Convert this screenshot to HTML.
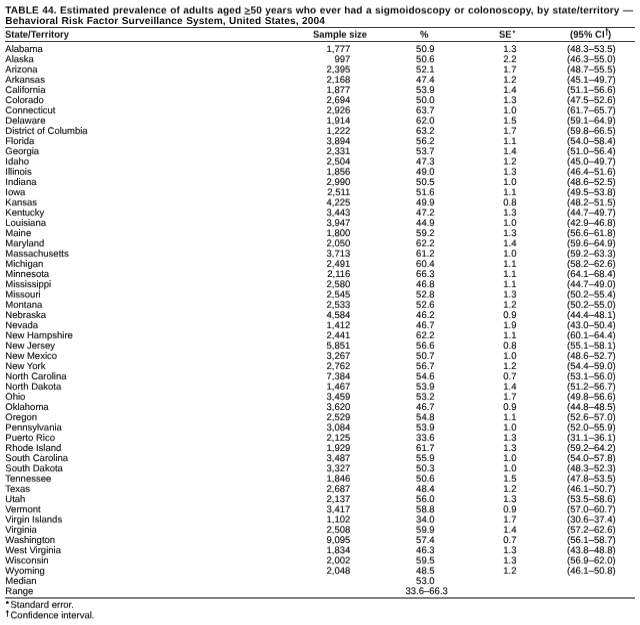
<!DOCTYPE html>
<html><head><meta charset="utf-8"><title>TABLE 44</title>
<style>
html,body{margin:0;padding:0;background:#fff;}
body{text-rendering:geometricPrecision;width:640px;height:625px;position:relative;overflow:hidden;font-family:"Liberation Sans",sans-serif;color:#0a0a0a;-webkit-text-stroke:0.12px #0a0a0a;}
#w{position:absolute;left:0;top:0;width:640px;height:625px;will-change:transform;transform:translateZ(0);}
.t,.h,.r,.f{position:absolute;top:0;line-height:12px;white-space:nowrap;}
.t{left:5.3px;font-weight:bold;font-size:10.1px;color:#111;-webkit-text-stroke:0;letter-spacing:0.13px;word-spacing:0.42px;}
.hl{position:absolute;left:5px;width:629.5px;height:1px;background:#3a3838;}
.h{font-weight:bold;font-size:10.0px;color:#111;-webkit-text-stroke:0;transform:scaleX(0.945);transform-origin:0 0;}
.r{left:0;width:640px;height:12px;font-size:9.5px;}
.r span{position:absolute;top:0;}
.a{left:5.3px;}
.n{right:289.7px;text-align:right;}
.p{right:205.4px;text-align:right;}
.s{right:123.5px;text-align:right;}
.c{left:531.3px;width:120px;text-align:center;}
.g{left:366.7px;width:120px;text-align:center;}
.f{left:5.3px;font-size:9.5px;}
</style></head><body><svg width="0" height="0" style="position:absolute"><defs><filter id="d1" color-interpolation-filters="sRGB"><feConvolveMatrix order="1 3" kernelMatrix="0 0.875 0.125" divisor="1" preserveAlpha="false" edgeMode="none"/></filter><filter id="u1" color-interpolation-filters="sRGB"><feConvolveMatrix order="1 3" kernelMatrix="0.125 0.875 0" divisor="1" preserveAlpha="false" edgeMode="none"/></filter><filter id="d2" color-interpolation-filters="sRGB"><feConvolveMatrix order="1 3" kernelMatrix="0 0.75 0.25" divisor="1" preserveAlpha="false" edgeMode="none"/></filter><filter id="u2" color-interpolation-filters="sRGB"><feConvolveMatrix order="1 3" kernelMatrix="0.25 0.75 0" divisor="1" preserveAlpha="false" edgeMode="none"/></filter><filter id="d3" color-interpolation-filters="sRGB"><feConvolveMatrix order="1 3" kernelMatrix="0 0.625 0.375" divisor="1" preserveAlpha="false" edgeMode="none"/></filter><filter id="u3" color-interpolation-filters="sRGB"><feConvolveMatrix order="1 3" kernelMatrix="0.375 0.625 0" divisor="1" preserveAlpha="false" edgeMode="none"/></filter><filter id="d4" color-interpolation-filters="sRGB"><feConvolveMatrix order="1 3" kernelMatrix="0 0.5 0.5" divisor="1" preserveAlpha="false" edgeMode="none"/></filter><filter id="u4" color-interpolation-filters="sRGB"><feConvolveMatrix order="1 3" kernelMatrix="0.5 0.5 0" divisor="1" preserveAlpha="false" edgeMode="none"/></filter></defs></svg><div id="w">

<div class="t" style="top:5px;filter:url(#u4)">TABLE 44. Estimated prevalence of adults aged <u style="font-weight:normal;-webkit-text-stroke:0.25px #111;font-size:9.4px;letter-spacing:0.45px;text-decoration-thickness:0.9px;text-underline-offset:0.2px">&gt;</u>50 years who ever had a sigmoidoscopy or colonoscopy, by state/territory —</div>
<div class="t" style="top:16px">Behavioral Risk Factor Surveillance System, United States, 2004</div>
<div class="hl" style="top:27px"></div>
<div class="h" style="left:5.3px;top:30px;filter:url(#u3)">State/Territory</div>
<div class="h" style="left:313.3px;top:30px;filter:url(#u3)">Sample size</div>
<div class="h" style="left:419.6px;top:30px;filter:url(#u3)">%</div>
<div class="h" style="left:499.4px;top:30px;filter:url(#u3)">SE<span style="font-size:7.8px;position:relative;top:-2px;left:0.9px">*</span></div>
<div class="h" style="left:570.4px;letter-spacing:0.08px;top:30px;filter:url(#u3)">(95% CI<i style="display:inline-block;width:3.6px"></i>)</div>
<div class="hl" style="top:41px"></div>
<div class="r" style="top:44px"><span class="a">Alabama</span><span class="n">1,777</span><span class="p">50.9</span><span class="s">1.3</span><span class="c">(48.3–53.5)</span></div>
<div class="r" style="top:54px;filter:url(#d2)"><span class="a">Alaska</span><span class="n">997</span><span class="p">50.6</span><span class="s">2.2</span><span class="c">(46.3–55.0)</span></div>
<div class="r" style="top:64px;filter:url(#d4)"><span class="a">Arizona</span><span class="n">2,395</span><span class="p">52.1</span><span class="s">1.7</span><span class="c">(48.7–55.5)</span></div>
<div class="r" style="top:75px;filter:url(#u2)"><span class="a">Arkansas</span><span class="n">2,168</span><span class="p">47.4</span><span class="s">1.2</span><span class="c">(45.1–49.7)</span></div>
<div class="r" style="top:85px;filter:url(#u1)"><span class="a">California</span><span class="n">1,877</span><span class="p">53.9</span><span class="s">1.4</span><span class="c">(51.1–56.6)</span></div>
<div class="r" style="top:95px;filter:url(#d1)"><span class="a">Colorado</span><span class="n">2,694</span><span class="p">50.0</span><span class="s">1.3</span><span class="c">(47.5–52.6)</span></div>
<div class="r" style="top:105px;filter:url(#d3)"><span class="a">Connecticut</span><span class="n">2,926</span><span class="p">63.7</span><span class="s">1.0</span><span class="c">(61.7–65.7)</span></div>
<div class="r" style="top:116px;filter:url(#u3)"><span class="a">Delaware</span><span class="n">1,914</span><span class="p">62.0</span><span class="s">1.5</span><span class="c">(59.1–64.9)</span></div>
<div class="r" style="top:126px;filter:url(#u1)"><span class="a">District of Columbia</span><span class="n">1,222</span><span class="p">63.2</span><span class="s">1.7</span><span class="c">(59.8–66.5)</span></div>
<div class="r" style="top:136px;filter:url(#d1)"><span class="a">Florida</span><span class="n">3,894</span><span class="p">56.2</span><span class="s">1.1</span><span class="c">(54.0–58.4)</span></div>
<div class="r" style="top:146px;filter:url(#d2)"><span class="a">Georgia</span><span class="n">2,331</span><span class="p">53.7</span><span class="s">1.4</span><span class="c">(51.0–56.4)</span></div>
<div class="r" style="top:157px;filter:url(#u4)"><span class="a">Idaho</span><span class="n">2,504</span><span class="p">47.3</span><span class="s">1.2</span><span class="c">(45.0–49.7)</span></div>
<div class="r" style="top:167px;filter:url(#u2)"><span class="a">Illinois</span><span class="n">1,856</span><span class="p">49.0</span><span class="s">1.3</span><span class="c">(46.4–51.6)</span></div>
<div class="r" style="top:177px"><span class="a">Indiana</span><span class="n">2,990</span><span class="p">50.5</span><span class="s">1.0</span><span class="c">(48.6–52.5)</span></div>
<div class="r" style="top:187px;filter:url(#d2)"><span class="a">Iowa</span><span class="n">2,511</span><span class="p">51.6</span><span class="s">1.1</span><span class="c">(49.5–53.8)</span></div>
<div class="r" style="top:197px;filter:url(#d4)"><span class="a">Kansas</span><span class="n">4,225</span><span class="p">49.9</span><span class="s">0.8</span><span class="c">(48.2–51.5)</span></div>
<div class="r" style="top:208px;filter:url(#u3)"><span class="a">Kentucky</span><span class="n">3,443</span><span class="p">47.2</span><span class="s">1.3</span><span class="c">(44.7–49.7)</span></div>
<div class="r" style="top:218px;filter:url(#u1)"><span class="a">Louisiana</span><span class="n">3,947</span><span class="p">44.9</span><span class="s">1.0</span><span class="c">(42.9–46.8)</span></div>
<div class="r" style="top:228px;filter:url(#d1)"><span class="a">Maine</span><span class="n">1,800</span><span class="p">59.2</span><span class="s">1.3</span><span class="c">(56.6–61.8)</span></div>
<div class="r" style="top:238px;filter:url(#d3)"><span class="a">Maryland</span><span class="n">2,050</span><span class="p">62.2</span><span class="s">1.4</span><span class="c">(59.6–64.9)</span></div>
<div class="r" style="top:249px;filter:url(#u3)"><span class="a">Massachusetts</span><span class="n">3,713</span><span class="p">61.2</span><span class="s">1.0</span><span class="c">(59.2–63.3)</span></div>
<div class="r" style="top:259px;filter:url(#u1)"><span class="a">Michigan</span><span class="n">2,491</span><span class="p">60.4</span><span class="s">1.1</span><span class="c">(58.2–62.6)</span></div>
<div class="r" style="top:269px"><span class="a">Minnesota</span><span class="n">2,116</span><span class="p">66.3</span><span class="s">1.1</span><span class="c">(64.1–68.4)</span></div>
<div class="r" style="top:279px;filter:url(#d2)"><span class="a">Mississippi</span><span class="n">2,580</span><span class="p">46.8</span><span class="s">1.1</span><span class="c">(44.7–49.0)</span></div>
<div class="r" style="top:290px;filter:url(#u4)"><span class="a">Missouri</span><span class="n">2,545</span><span class="p">52.8</span><span class="s">1.3</span><span class="c">(50.2–55.4)</span></div>
<div class="r" style="top:300px;filter:url(#u2)"><span class="a">Montana</span><span class="n">2,533</span><span class="p">52.6</span><span class="s">1.2</span><span class="c">(50.2–55.0)</span></div>
<div class="r" style="top:310px"><span class="a">Nebraska</span><span class="n">4,584</span><span class="p">46.2</span><span class="s">0.9</span><span class="c">(44.4–48.1)</span></div>
<div class="r" style="top:320px;filter:url(#d2)"><span class="a">Nevada</span><span class="n">1,412</span><span class="p">46.7</span><span class="s">1.9</span><span class="c">(43.0–50.4)</span></div>
<div class="r" style="top:330px;filter:url(#d3)"><span class="a">New Hampshire</span><span class="n">2,441</span><span class="p">62.2</span><span class="s">1.1</span><span class="c">(60.1–64.4)</span></div>
<div class="r" style="top:341px;filter:url(#u3)"><span class="a">New Jersey</span><span class="n">5,851</span><span class="p">56.6</span><span class="s">0.8</span><span class="c">(55.1–58.1)</span></div>
<div class="r" style="top:351px;filter:url(#u1)"><span class="a">New Mexico</span><span class="n">3,267</span><span class="p">50.7</span><span class="s">1.0</span><span class="c">(48.6–52.7)</span></div>
<div class="r" style="top:361px;filter:url(#d1)"><span class="a">New York</span><span class="n">2,762</span><span class="p">56.7</span><span class="s">1.2</span><span class="c">(54.4–59.0)</span></div>
<div class="r" style="top:371px;filter:url(#d3)"><span class="a">North Carolina</span><span class="n">7,384</span><span class="p">54.6</span><span class="s">0.7</span><span class="c">(53.1–56.0)</span></div>
<div class="r" style="top:382px;filter:url(#u3)"><span class="a">North Dakota</span><span class="n">1,467</span><span class="p">53.9</span><span class="s">1.4</span><span class="c">(51.2–56.7)</span></div>
<div class="r" style="top:392px;filter:url(#u2)"><span class="a">Ohio</span><span class="n">3,459</span><span class="p">53.2</span><span class="s">1.7</span><span class="c">(49.8–56.6)</span></div>
<div class="r" style="top:402px"><span class="a">Oklahoma</span><span class="n">3,620</span><span class="p">46.7</span><span class="s">0.9</span><span class="c">(44.8–48.5)</span></div>
<div class="r" style="top:412px;filter:url(#d2)"><span class="a">Oregon</span><span class="n">2,529</span><span class="p">54.8</span><span class="s">1.1</span><span class="c">(52.6–57.0)</span></div>
<div class="r" style="top:422px;filter:url(#d4)"><span class="a">Pennsylvania</span><span class="n">3,084</span><span class="p">53.9</span><span class="s">1.0</span><span class="c">(52.0–55.9)</span></div>
<div class="r" style="top:433px;filter:url(#u2)"><span class="a">Puerto Rico</span><span class="n">2,125</span><span class="p">33.6</span><span class="s">1.3</span><span class="c">(31.1–36.1)</span></div>
<div class="r" style="top:443px"><span class="a">Rhode Island</span><span class="n">1,929</span><span class="p">61.7</span><span class="s">1.3</span><span class="c">(59.2–64.2)</span></div>
<div class="r" style="top:453px;filter:url(#d1)"><span class="a">South Carolina</span><span class="n">3,487</span><span class="p">55.9</span><span class="s">1.0</span><span class="c">(54.0–57.8)</span></div>
<div class="r" style="top:463px;filter:url(#d3)"><span class="a">South Dakota</span><span class="n">3,327</span><span class="p">50.3</span><span class="s">1.0</span><span class="c">(48.3–52.3)</span></div>
<div class="r" style="top:474px;filter:url(#u3)"><span class="a">Tennessee</span><span class="n">1,846</span><span class="p">50.6</span><span class="s">1.5</span><span class="c">(47.8–53.5)</span></div>
<div class="r" style="top:484px;filter:url(#u1)"><span class="a">Texas</span><span class="n">2,687</span><span class="p">48.4</span><span class="s">1.2</span><span class="c">(46.1–50.7)</span></div>
<div class="r" style="top:494px;filter:url(#d1)"><span class="a">Utah</span><span class="n">2,137</span><span class="p">56.0</span><span class="s">1.3</span><span class="c">(53.5–58.6)</span></div>
<div class="r" style="top:504px;filter:url(#d3)"><span class="a">Vermont</span><span class="n">3,417</span><span class="p">58.8</span><span class="s">0.9</span><span class="c">(57.0–60.7)</span></div>
<div class="r" style="top:515px;filter:url(#u4)"><span class="a">Virgin Islands</span><span class="n">1,102</span><span class="p">34.0</span><span class="s">1.7</span><span class="c">(30.6–37.4)</span></div>
<div class="r" style="top:525px;filter:url(#u2)"><span class="a">Virginia</span><span class="n">2,508</span><span class="p">59.9</span><span class="s">1.4</span><span class="c">(57.2–62.6)</span></div>
<div class="r" style="top:535px"><span class="a">Washington</span><span class="n">9,095</span><span class="p">57.4</span><span class="s">0.7</span><span class="c">(56.1–58.7)</span></div>
<div class="r" style="top:545px;filter:url(#d2)"><span class="a">West Virginia</span><span class="n">1,834</span><span class="p">46.3</span><span class="s">1.3</span><span class="c">(43.8–48.8)</span></div>
<div class="r" style="top:555px;filter:url(#d4)"><span class="a">Wisconsin</span><span class="n">2,002</span><span class="p">59.5</span><span class="s">1.3</span><span class="c">(56.9–62.0)</span></div>
<div class="r" style="top:566px;filter:url(#u2)"><span class="a">Wyoming</span><span class="n">2,048</span><span class="p">48.5</span><span class="s">1.2</span><span class="c">(46.1–50.8)</span></div>
<div class="r" style="top:576px;filter:url(#u1)"><span class="a">Median</span><span class="p">53.0</span></div>
<div class="r" style="top:586px;filter:url(#d1)"><span class="a">Range</span><span class="g">33.6–66.3</span></div>
<div class="hl" style="top:597px;height:2px;background:#858282"></div>
<div class="f" style="left:6px;font-size:7px;font-weight:bold;-webkit-text-stroke:0.25px #000;top:599px">*</div>
<div class="f" style="left:10.5px;top:600px;filter:url(#u2)">Standard error.</div>
<div class="f" style="left:10.5px;top:610px;filter:url(#d3)">Confidence interval.</div>
<svg style="position:absolute;left:0;top:0" width="640" height="625" viewBox="0 0 640 625"><path d="M606.75 27.6V35.4M605.6 29.8H608.2M7.4 610.1V616.8M5.9 611.8H8.9" stroke="#1c1c1c" stroke-width="1" fill="none"/></svg>
</div></body></html>
